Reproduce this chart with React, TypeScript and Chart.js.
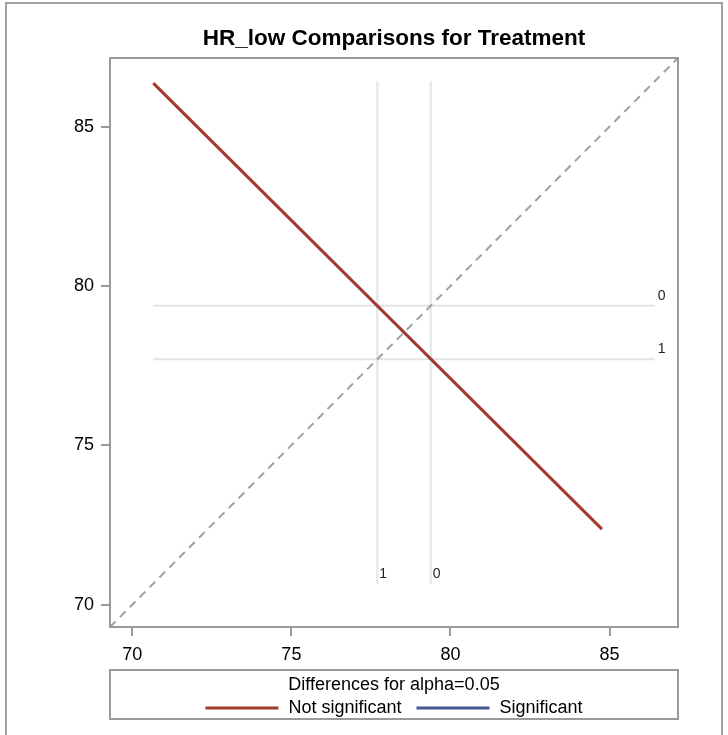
import React, { useEffect, useRef } from "react";
import { Chart, registerables } from "chart.js";

Chart.register(...registerables);

// Treatment levels and their least-squares means
const levelLabels = ["0", "1"];
const lsMeans = [79.38, 77.7];

// Confidence segment for the 0 - 1 difference (not significant)
const diffSegmentX = [70.66, 84.76];
const diffSegmentY = [86.36, 72.37];

// Extent of the mean reference lines
const refExtent = [70.66, 86.42];

// Shared axis range and tick values
const axisRange = [69.3, 87.15];
const tickValues = [70, 75, 80, 85];

const chartTitle = "HR_low Comparisons for Treatment";
const legendTitle = "Differences for alpha=0.05";
const legendEntries = ["Not significant", "Significant"];

const RED = "#A23A2E";
const BLUE = "#445694";
const FONT = "'Liberation Sans', Arial, sans-serif";

export default function App() {
  const canvasRef = useRef<HTMLCanvasElement | null>(null);

  useEffect(() => {
    const canvas = canvasRef.current;
    if (!canvas) return;

    const refDatasets: any[] = [];
    levelLabels.forEach((lab, i) => {
      refDatasets.push({
        label: `ref-v-${lab}`,
        data: [
          { x: lsMeans[i], y: refExtent[0] },
          { x: lsMeans[i], y: refExtent[1] },
        ],
        showLine: true,
        borderColor: "#E4E4E4",
        borderWidth: 2,
        pointRadius: 0,
        order: 3,
      });
      refDatasets.push({
        label: `ref-h-${lab}`,
        data: [
          { x: refExtent[0], y: lsMeans[i] },
          { x: refExtent[1], y: lsMeans[i] },
        ],
        showLine: true,
        borderColor: "#E4E4E4",
        borderWidth: 2,
        pointRadius: 0,
        order: 3,
      });
    });

    const framePlugin = {
      id: "pageFrame",
      beforeDraw(chart: any) {
        const ctx = chart.ctx;
        ctx.save();
        ctx.fillStyle = "#ffffff";
        ctx.fillRect(0, 0, chart.width, chart.height);
        ctx.strokeStyle = "#A0A0A0";
        ctx.lineWidth = 2;
        ctx.strokeRect(6, 3, chart.width - 12, chart.height + 10);
        ctx.restore();
      },
      afterDraw(chart: any) {
        const { ctx, chartArea } = chart;
        ctx.save();
        ctx.strokeStyle = "#9A9A9A";
        ctx.lineWidth = 2;
        ctx.strokeRect(chartArea.left, chartArea.top, chartArea.right - chartArea.left, chartArea.bottom - chartArea.top);
        ctx.restore();
      },
    };

    const refLabelPlugin = {
      id: "refLabels",
      afterDatasetsDraw(chart: any) {
        const { ctx, scales } = chart;
        const xs = scales.x;
        const ys = scales.y;
        ctx.save();
        ctx.fillStyle = "#222";
        ctx.font = `14px ${FONT}`;
        ctx.textBaseline = "middle";
        ctx.textAlign = "left";
        levelLabels.forEach((lab, i) => {
          // label at the right end of the horizontal line
          ctx.fillText(lab, xs.getPixelForValue(refExtent[1]) + 3, ys.getPixelForValue(lsMeans[i]) - 10);
          // label at the bottom of the vertical line
          ctx.fillText(lab, xs.getPixelForValue(lsMeans[i]) + 2, ys.getPixelForValue(refExtent[0]) - 10);
        });
        ctx.restore();
      },
    };

    const legendPlugin = {
      id: "diffLegend",
      afterDraw(chart: any) {
        const { ctx, chartArea } = chart;
        const left = chartArea.left;
        const right = chartArea.right;
        const top = chartArea.bottom + 43;
        const height = 49;
        const cx = (left + right) / 2;
        ctx.save();
        ctx.strokeStyle = "#9A9A9A";
        ctx.lineWidth = 2;
        ctx.strokeRect(left, top, right - left, height);
        ctx.fillStyle = "#000";
        ctx.font = `18px ${FONT}`;
        ctx.textBaseline = "middle";
        ctx.textAlign = "center";
        ctx.fillText(legendTitle, cx, top + 15);

        const sample = 73;
        const gapText = 10;
        const gapEntry = 15;
        const w0 = ctx.measureText(legendEntries[0]).width;
        const w1 = ctx.measureText(legendEntries[1]).width;
        const total = sample + gapText + w0 + gapEntry + sample + gapText + w1;
        let x = cx - total / 2;
        const rowY = top + 38;
        const colors = [RED, BLUE];
        const widths = [w0, w1];
        ctx.textAlign = "left";
        for (let i = 0; i < 2; i++) {
          ctx.strokeStyle = colors[i];
          ctx.lineWidth = 3;
          ctx.beginPath();
          ctx.moveTo(x, rowY);
          ctx.lineTo(x + sample, rowY);
          ctx.stroke();
          x += sample + gapText;
          ctx.fillText(legendEntries[i], x, rowY);
          x += widths[i] + gapEntry;
        }
        ctx.restore();
      },
    };

    const axisCommon = (isX: boolean) => ({
      type: "linear" as const,
      min: axisRange[0],
      max: axisRange[1],
      afterBuildTicks(scale: any) {
        scale.ticks = tickValues.map((v) => ({ value: v }));
      },
      afterFit(scale: any) {
        if (isX) scale.height = 40;
        else scale.width = 110;
      },
      grid: {
        drawOnChartArea: false,
        drawTicks: true,
        tickLength: 9,
        color: "#9A9A9A",
        lineWidth: 2,
      },
      border: { display: true, color: "#9A9A9A", width: 2 },
      ticks: {
        color: "#000",
        font: { family: FONT, size: 18 },
        padding: isX ? 8 : 7,
        maxRotation: 0,
        autoSkip: false,
        callback: (v: any) => String(v),
      },
    });

    const chart = new Chart(canvas, {
      type: "scatter",
      data: {
        datasets: [
          {
            label: legendEntries[0],
            data: diffSegmentX.map((x, i) => ({ x, y: diffSegmentY[i] })),
            showLine: true,
            borderColor: RED,
            borderWidth: 3,
            pointRadius: 0,
            order: 0,
          },
          {
            label: legendEntries[1],
            data: [],
            showLine: true,
            borderColor: BLUE,
            borderWidth: 3,
            pointRadius: 0,
            order: 0,
          },
          {
            label: "diagonal",
            data: [
              { x: axisRange[0], y: axisRange[0] },
              { x: axisRange[1], y: axisRange[1] },
            ],
            showLine: true,
            borderColor: "#A0A0A0",
            borderWidth: 2,
            borderDash: [8, 6],
            pointRadius: 0,
            order: 1,
          },
          ...refDatasets,
        ],
      },
      options: {
        animation: false,
        responsive: false,
        maintainAspectRatio: false,
        layout: { padding: { left: 0, right: 50, top: 0, bottom: 68 } },
        plugins: {
          legend: { display: false },
          tooltip: { enabled: false },
          title: {
            display: true,
            text: chartTitle,
            fullSize: false,
            color: "#000",
            font: { family: FONT, size: 22.5, weight: "bold", lineHeight: 1.2 },
            padding: { top: 25, bottom: 6 },
          },
        },
        scales: {
          x: axisCommon(true) as any,
          y: axisCommon(false) as any,
        },
      },
      plugins: [framePlugin, refLabelPlugin, legendPlugin],
    });

    return () => chart.destroy();
  }, []);

  return (
    <div style={{ position: "absolute", left: 0, top: 0 }}>
      <canvas ref={canvasRef} width={728} height={735} style={{ display: "block" }} />
    </div>
  );
}
